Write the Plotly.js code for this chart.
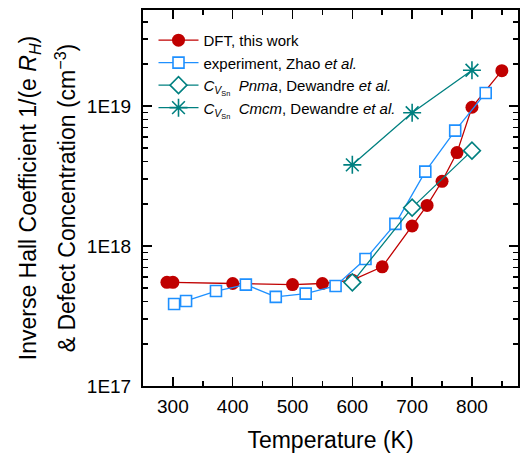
<!DOCTYPE html>
<html>
<head>
<meta charset="utf-8">
<script src="https://cdn.plot.ly/plotly-3.0.1.min.js"></script>
<style>html,body{margin:0;padding:0;background:#fff}#chart{width:520px;height:454px}</style>
</head>
<body>
<div id="chart"></div>
<script>
// DFT, this work
const dftT = [290, 300, 400, 500, 550, 600, 650, 700, 725, 750, 775, 800, 850];
const dftN = [5.5e17, 5.5e17, 5.4e17, 5.3e17, 5.4e17, 5.7e17, 7.1e17, 1.39e18, 1.95e18, 2.9e18, 4.65e18, 9.8e18, 1.79e19];
// experiment, Zhao et al.
const expT = [302, 322, 372, 422, 472, 522, 572, 622, 672, 722, 772, 823];
const expN = [3.85e17, 4.05e17, 4.77e17, 5.3e17, 4.33e17, 4.57e17, 5.18e17, 8.07e17, 1.44e18, 3.4e18, 6.67e18, 1.24e19];
// C_VSn Pnma, Dewandre et al.
const pnmaT = [600, 700, 800];
const pnmaN = [5.5e17, 1.88e18, 4.8e18];
// C_VSn Cmcm, Dewandre et al.
const cmcmT = [600, 700, 800];
const cmcmN = [3.8e18, 8.96e18, 1.8e19];

const yTickVals = [1e17, 1e18, 1e19];
const yTickText = ['1E17', '1E18', '1E19'];
const xTickVals = [300, 400, 500, 600, 700, 800];

const red = '#c00000', blue = '#1e90ff', teal = '#008080';
const yMinor = [];
[1e17, 1e18, 1e19].forEach(d => { for (let k = 2; k <= 9; k++) yMinor.push(k * d); });

const traces = [
  {x: dftT, y: dftN, name: 'DFT, this work', mode: 'lines+markers',
   line: {color: red, width: 1.3}, marker: {symbol: 'circle', size: 13, color: red}},
  {x: expT, y: expN, name: 'experiment, Zhao <i>et al.</i>', mode: 'lines+markers',
   line: {color: blue, width: 1.3}, marker: {symbol: 'square', size: 11, color: '#fff', line: {color: blue, width: 1.6}}},
  {x: pnmaT, y: pnmaN, name: '<i>C</i><sub><i>V</i><sub>Sn</sub></sub>  <i>Pnma</i>, Dewandre <i>et al.</i>', mode: 'lines+markers',
   line: {color: teal, width: 1.3}, marker: {symbol: 'diamond', size: 13, color: '#fff', line: {color: teal, width: 1.6}}},
  {x: cmcmT, y: cmcmN, name: '<i>C</i><sub><i>V</i><sub>Sn</sub></sub>  <i>Cmcm</i>, Dewandre <i>et al.</i>', mode: 'lines+markers',
   line: {color: teal, width: 1.3}, marker: {symbol: 'asterisk-open', size: 15, color: teal, line: {color: teal, width: 1.6}}}
];

const ts = 'font-size:23px';
const layout = {
  width: 520, height: 454,
  margin: {l: 143, r: 2, t: 10, b: 68},
  paper_bgcolor: '#fff', plot_bgcolor: '#fff',
  font: {family: 'Liberation Sans, Arial, sans-serif', color: '#000'},
  showlegend: true,
  legend: {x: 0.028, y: 0.963, xanchor: 'left', yanchor: 'top', bgcolor: 'rgba(0,0,0,0)', itemwidth: 40,
           font: {size: 15, family: 'Liberation Sans, Arial, sans-serif'}, tracegroupgap: 0},
  xaxis: {
    range: [250, 877], tickmode: 'array', tickvals: xTickVals,
    ticks: 'inside', ticklen: 9, tickwidth: 1.5, tickcolor: '#000',
    minor: {tickmode: 'linear', tick0: 250, dtick: 50, ticks: 'inside', ticklen: 5, tickwidth: 1.5, tickcolor: '#000', showgrid: false},
    showline: true, linewidth: 2, linecolor: '#000', mirror: 'ticks', showgrid: false, zeroline: false,
    tickfont: {size: 19}, ticklabelstandoff: 2,
    title: {text: 'Temperature (K)', font: {size: 23}, standoff: 16}
  },
  yaxis: {
    type: 'log', range: [17, 19.686], tickmode: 'array', tickvals: yTickVals, ticktext: yTickText,
    ticks: 'inside', ticklen: 9, tickwidth: 1.5, tickcolor: '#000',
    minor: {tickmode: 'array', tickvals: yMinor, ticks: 'inside', ticklen: 5, tickwidth: 1.5, tickcolor: '#000', showgrid: false},
    showline: true, linewidth: 2, linecolor: '#000', mirror: 'ticks', showgrid: false, zeroline: false,
    tickfont: {size: 19}, ticklabelstandoff: 6,
    title: {text: '<span style="' + ts + '">Inverse Hall Coefficient 1/(e <i>R<sub>H</sub></i>)</span><br><span style="' + ts + '">& Defect Concentration (cm<sup>−3</sup>)</span>',
            font: {size: 30}, standoff: 2}
  }
};

Plotly.newPlot('chart', traces, layout, {displayModeBar: false, staticPlot: true});
</script>
</body>
</html>
